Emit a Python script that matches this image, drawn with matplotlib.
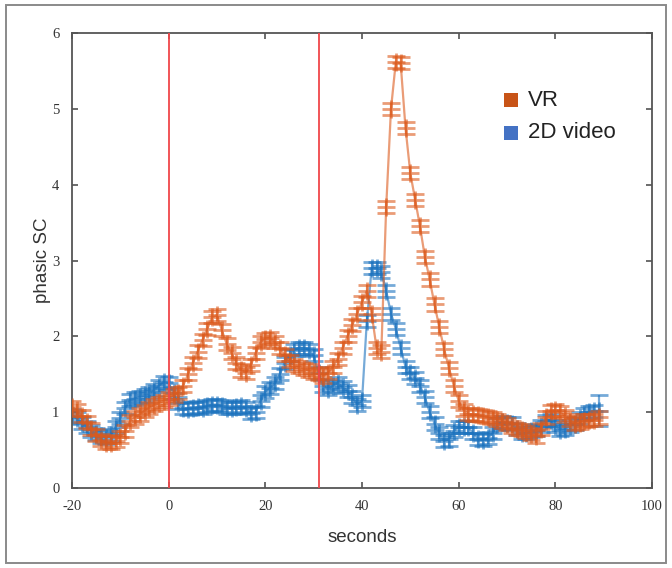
import numpy as np
import matplotlib
matplotlib.use("Agg")
import matplotlib.pyplot as plt
from matplotlib.patches import Rectangle

# ---- data ----
seconds = list(range(-20, 90))  # 1-second samples, -20 .. 89

vr = [1.07, 1.03, 0.95, 0.87, 0.78, 0.70, 0.63, 0.60, 0.60, 0.62,   # -20..-11
      0.67, 0.75, 0.88, 0.93, 0.97, 1.02, 1.06, 1.09, 1.12, 1.15,   # -10..-1
      1.18, 1.22, 1.25, 1.35, 1.50, 1.65, 1.80, 1.95, 2.10, 2.25,   # 0..9
      2.28, 2.08, 1.90, 1.78, 1.65, 1.55, 1.52, 1.62, 1.78, 1.92,   # 10..19
      1.97, 1.98, 1.92, 1.85, 1.75, 1.68, 1.62, 1.60, 1.57, 1.55,   # 20..29
      1.52, 1.50, 1.47, 1.52, 1.60, 1.70, 1.85, 2.00, 2.15, 2.30,   # 30..39
      2.45, 2.60, 2.30, 1.85, 1.80, 3.70, 5.00, 5.62, 5.60, 4.75,   # 40..49
      4.15, 3.80, 3.45, 3.05, 2.75, 2.42, 2.12, 1.83, 1.58, 1.35,   # 50..59
      1.15, 1.03, 0.98, 0.97, 0.96, 0.95, 0.94, 0.92, 0.90, 0.87,   # 60..69
      0.84, 0.80, 0.78, 0.76, 0.74, 0.71, 0.68, 0.78, 0.93, 1.02,   # 70..79
      1.03, 1.00, 0.95, 0.90, 0.85, 0.86, 0.89, 0.90, 0.90, 0.93]   # 80..89

video2d = [0.96, 0.92, 0.86, 0.80, 0.75, 0.71, 0.68, 0.66, 0.70, 0.80,   # -20..-11
           0.92, 1.05, 1.16, 1.18, 1.20, 1.22, 1.25, 1.29, 1.35, 1.40,   # -10..-1
           1.38, 1.25, 1.12, 1.05, 1.04, 1.05, 1.07, 1.06, 1.08, 1.10,   # 0..9
           1.10, 1.08, 1.06, 1.05, 1.07, 1.08, 1.05, 0.99, 1.00, 1.15,   # 10..19
           1.27, 1.32, 1.38, 1.50, 1.65, 1.75, 1.82, 1.85, 1.85, 1.82,   # 20..29
           1.75, 1.52, 1.35, 1.30, 1.35, 1.38, 1.33, 1.28, 1.20, 1.10,   # 30..39
           1.15, 2.20, 2.90, 2.90, 2.85, 2.60, 2.30, 2.10, 1.85, 1.60,   # 40..49
           1.52, 1.45, 1.35, 1.20, 1.00, 0.85, 0.72, 0.62, 0.64, 0.75,   # 50..59
           0.80, 0.80, 0.80, 0.72, 0.65, 0.63, 0.66, 0.72, 0.84, 0.87,   # 60..69
           0.86, 0.85, 0.78, 0.72, 0.72, 0.75, 0.77, 0.82, 0.88, 0.90,   # 70..79
           0.82, 0.77, 0.78, 0.82, 0.85, 0.92, 0.98, 1.00, 1.02, 1.02]   # 80..89

vr_err = [0.08] * len(vr)
video2d_err = [0.08] * (len(video2d) - 1) + [0.2]

event_lines = [0, 31]
x_ticks = [-20, 0, 20, 40, 60, 80, 100]
y_ticks = [0, 1, 2, 3, 4, 5, 6]
legend_labels = ["VR", "2D video"]

# ---- styling ----
c_vr = "#DC5A1C"
c_2d = "#1B72BE"
c_leg_vr = "#C85417"
c_leg_2d = "#4472C4"

fig = plt.figure(figsize=(6.72, 5.68), dpi=100)
W, H = 672, 568

# outer frame
fig.patches.append(Rectangle((6 / W, 5 / H), (666 - 6) / W, (563 - 5) / H,
                             transform=fig.transFigure, fill=False,
                             edgecolor="#8a8a8a", linewidth=1.4))

ax = fig.add_axes([72 / W, (H - 488) / H, (652 - 72) / W, (488 - 33) / H])

for yv, ev, col, z in [(video2d, video2d_err, c_2d, 2), (vr, vr_err, c_vr, 3)]:
    ax.errorbar(seconds, yv, yerr=ev, fmt="+-", color=col, ecolor=col,
                elinewidth=1.6, capsize=6.5, capthick=2.0, markersize=13,
                markeredgewidth=2.0, lw=1.6, alpha=0.6, zorder=z)

for xv in event_lines:
    ax.axvline(xv, color="#F0474A", lw=1.3, zorder=4)

ax.set_xlim(-20, 100)
ax.set_ylim(0, 6)
ax.set_xticks(x_ticks)
ax.set_yticks(y_ticks)
tick_font = dict(family=["Liberation Serif", "DejaVu Serif"], size=10.5, color="#333333")
ax.set_xticklabels([str(v) for v in x_ticks], **tick_font)
ax.set_yticklabels([str(v) for v in y_ticks], **tick_font)
ax.tick_params(direction="in", length=4, width=1.1, color="#444444",
               top=True, right=True, pad=9)
for s in ax.spines.values():
    s.set_color("#555555")
    s.set_linewidth(1.3)

label_font = dict(family=["Liberation Sans", "DejaVu Sans"], size=13.5, color="#333333")
ax.set_xlabel("seconds", labelpad=11, **label_font)
ax.set_ylabel("phasic SC", labelpad=1, **label_font)

# legend (manual, like the reference)
leg_font = dict(family=["Liberation Sans", "DejaVu Sans"], size=16, color="#222222")
for i, (lab, col) in enumerate(zip(legend_labels, [c_leg_vr, c_leg_2d])):
    yc = 100 + i * 33
    fig.patches.append(Rectangle((504 / W, (H - yc - 7) / H), 14 / W, 14 / H,
                                 transform=fig.transFigure, facecolor=col,
                                 edgecolor="none"))
    fig.text(528 / W, (H - yc) / H, lab, va="center", ha="left", **leg_font)

fig.savefig("out.png", dpi=100)
